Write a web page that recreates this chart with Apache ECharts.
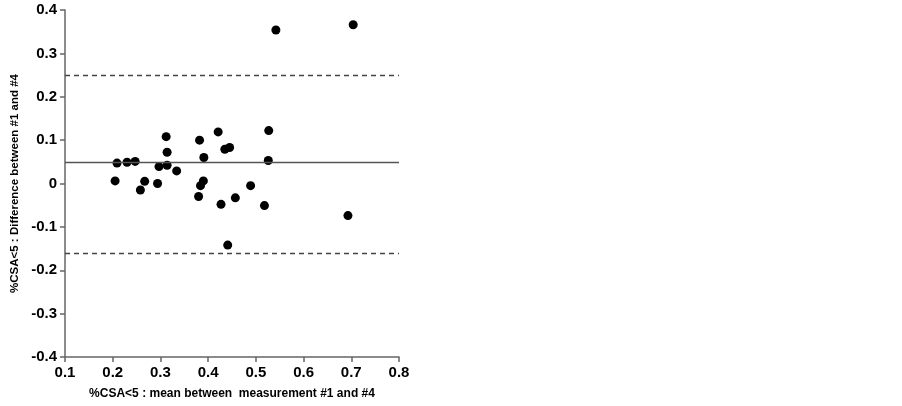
<!DOCTYPE html>
<html>
<head>
<meta charset="utf-8">
<script src="https://cdn.jsdelivr.net/npm/echarts@6/dist/echarts.min.js"></script>
<style>
  html, body { margin: 0; padding: 0; background: #fff; }
  #chart { width: 902px; height: 406px; }
</style>
</head>
<body>
<div id="chart"></div>
<script>
// mean between measurement #1 and #4 (x) and difference (y)
var meanVals = [
    0.542, 0.704, 0.205, 0.209, 0.230, 0.247, 0.258, 0.267, 0.294, 0.297,
    0.312, 0.314, 0.314, 0.334, 0.382, 0.391, 0.421, 0.435, 0.445, 0.390,
    0.384, 0.380, 0.457, 0.489, 0.527, 0.526, 0.427, 0.518, 0.693, 0.441
];
var diffVals = [
    0.354, 0.366, 0.006, 0.047, 0.049, 0.051, -0.015, 0.005, 0.000, 0.039,
    0.108, 0.072, 0.042, 0.029, 0.100, 0.060, 0.119, 0.079, 0.083, 0.006,
    -0.005, -0.030, -0.033, -0.005, 0.122, 0.053, -0.048, -0.051, -0.074, -0.142
];
// bias and limits of agreement
var biasLine = 0.046;
var limitLines = [0.250, -0.158];

var xTicks = [0.1, 0.8, 0.1];   // min, max, step
var yTicks = [-0.4, 0.4, 0.1];

var points = meanVals.map(function (x, i) { return [x, diffVals[i]]; });

var labelFont = {
    color: '#000',
    fontFamily: 'Liberation Sans, Arial, sans-serif',
    fontWeight: 'bold'
};
var axisLineStyle = { color: '#666', width: 1.5 };

var option = {
    animation: false,
    backgroundColor: '#fff',
    grid: { left: 65, top: 10, right: 503, bottom: 49 },
    xAxis: {
        type: 'value',
        min: xTicks[0], max: xTicks[1], interval: xTicks[2],
        name: '%CSA<5 : mean between  measurement #1 and #4',
        nameLocation: 'middle',
        nameGap: 31,
        nameTextStyle: Object.assign({ fontSize: 12 }, labelFont),
        axisLine: { show: true, onZero: false, lineStyle: axisLineStyle },
        axisTick: { show: true, length: 5, lineStyle: axisLineStyle },
        axisLabel: Object.assign({
            fontSize: 15, margin: 8,
            formatter: function (v) { return (+v).toFixed(1); }
        }, labelFont),
        splitLine: { show: false }
    },
    yAxis: {
        type: 'value',
        min: yTicks[0], max: yTicks[1], interval: yTicks[2],
        name: '%CSA<5 : Difference between #1 and #4',
        nameLocation: 'middle',
        nameGap: 44,
        nameTextStyle: Object.assign({ fontSize: 11.5 }, labelFont),
        axisLine: { show: true, onZero: false, lineStyle: axisLineStyle },
        axisTick: { show: true, length: 5, lineStyle: axisLineStyle },
        axisLabel: Object.assign({
            fontSize: 15, margin: 8,
            formatter: function (v) {
                var r = Math.round(v * 10) / 10;
                return r === 0 ? '0' : r.toFixed(1);
            }
        }, labelFont),
        splitLine: { show: false }
    },
    series: [
        {
            type: 'scatter',
            data: points,
            symbolSize: 9,
            itemStyle: { color: '#000', opacity: 1 },
            z: 3,
            markLine: {
                silent: true,
                symbol: 'none',
                label: { show: false },
                animation: false,
                data: [
                    { yAxis: biasLine, lineStyle: { type: 'solid', color: '#555', width: 1.3 } },
                    { yAxis: limitLines[0], lineStyle: { type: [5, 4], color: '#444', width: 1.3 } },
                    { yAxis: limitLines[1], lineStyle: { type: [5, 4], color: '#444', width: 1.3 } }
                ]
            }
        }
    ]
};

var myChart = echarts.init(document.getElementById('chart'));
myChart.setOption(option, true);
</script>
</body>
</html>
